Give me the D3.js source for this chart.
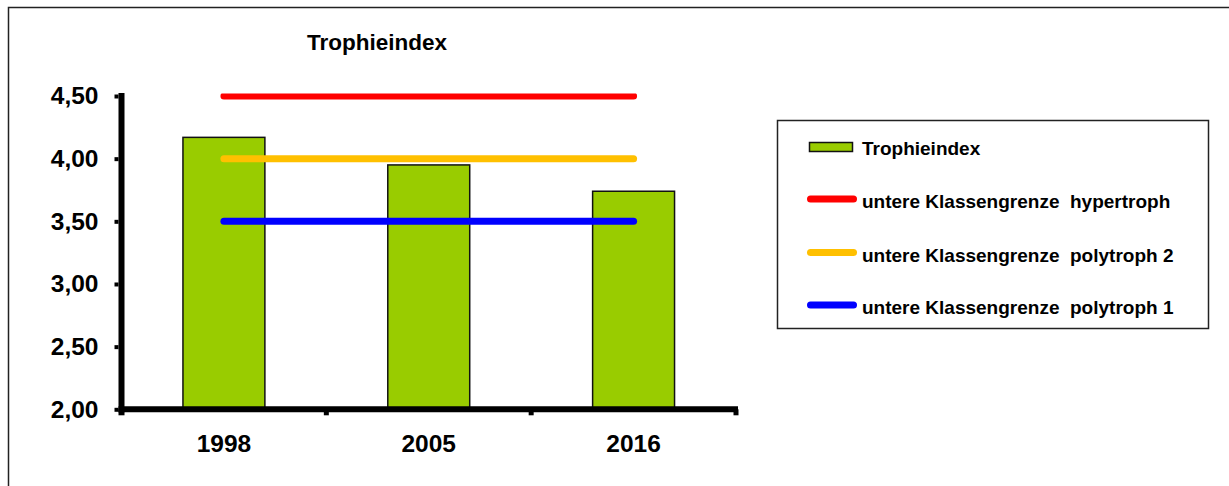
<!DOCTYPE html>
<html><head><meta charset="utf-8">
<script src="https://cdn.jsdelivr.net/npm/d3@7"></script>
<style>
html,body{margin:0;padding:0;background:#fff;}
svg{display:block;font-family:"Liberation Sans",Arial,sans-serif;font-weight:bold;}
</style></head>
<body>
<script>
const categories = ["1998","2005","2016"];
const trophieindex = [4.17, 3.95, 3.74];
const thresholds = [4.5, 4.0, 3.5];
const thresholdNames = ["untere Klassengrenze  hypertroph","untere Klassengrenze  polytroph 2","untere Klassengrenze  polytroph 1"];
const thresholdColors = ["#ff0000","#ffc000","#0000ff"];
const yTicks = [2.0, 2.5, 3.0, 3.5, 4.0, 4.5];
const title = "Trophieindex";

const W = 1229, H = 486;
const svg = d3.select("body").append("svg").attr("width", W).attr("height", H);

// outer frame
svg.append("rect").attr("x", 8.5).attr("y", 7.5).attr("width", 1300).attr("height", 600)
  .attr("fill", "none").attr("stroke", "#222").attr("stroke-width", 1.5);

const x0 = 121.5, x1 = 736, yBot = 409.3, yTop = 96;
const x = d3.scaleBand().domain(categories).range([x0, x1]).paddingInner(0.6).paddingOuter(0.3);
const y = d3.scaleLinear().domain([2, 4.5]).range([yBot, yTop]);

// title
svg.append("text").attr("x", 377).attr("y", 50).attr("text-anchor", "middle")
  .attr("font-size", 22.5).text(title);

// bars
svg.append("g").selectAll("rect").data(trophieindex).join("rect")
  .attr("x", (d, i) => x(categories[i]))
  .attr("width", x.bandwidth())
  .attr("y", d => y(d))
  .attr("height", d => y(2) - y(d))
  .attr("fill", "#99cc00").attr("stroke", "#111").attr("stroke-width", 1.5);

// threshold lines
svg.append("clipPath").attr("id", "plotclip").append("rect")
  .attr("x", 0).attr("y", yTop - 2.5).attr("width", W).attr("height", H);
const cx = c => x(c) + x.bandwidth() / 2;
svg.append("g").attr("clip-path", "url(#plotclip)").selectAll("line").data(thresholds).join("line")
  .attr("x1", cx(categories[0])).attr("x2", cx(categories[categories.length - 1]))
  .attr("y1", d => y(d)).attr("y2", d => y(d))
  .attr("stroke", (d, i) => thresholdColors[i]).attr("stroke-width", 7).attr("stroke-linecap", "round");

// y axis
const yAxis = d3.axisLeft(y).tickValues(yTicks).tickSize(4).tickPadding(16)
  .tickFormat(d => d3.format(".2f")(d).replace(".", ","));
const gy = svg.append("g").attr("transform", `translate(${x0 - 3},0)`).call(yAxis);
gy.select(".domain").remove();
gy.selectAll(".tick line").attr("stroke", "#000").attr("stroke-width", 4);
gy.selectAll(".tick text").attr("font-size", 24.5).attr("font-weight", "bold").attr("fill", "#000")
  .attr("font-family", "Liberation Sans, Arial, sans-serif");
svg.append("line").attr("x1", x0).attr("x2", x0).attr("y1", yTop - 3).attr("y2", yBot + 3)
  .attr("stroke", "#000").attr("stroke-width", 6);

// x axis
svg.append("line").attr("x1", x0 - 3).attr("x2", x1 + 2).attr("y1", yBot).attr("y2", yBot)
  .attr("stroke", "#000").attr("stroke-width", 6);
const step = x.step();
const boundaries = categories.map((c, i) => x0 + step * (i + 1));
svg.append("g").selectAll("line").data(boundaries).join("line")
  .attr("x1", d => d).attr("x2", d => d).attr("y1", yBot).attr("y2", yBot + 6)
  .attr("stroke", "#000").attr("stroke-width", 5);
svg.append("line").attr("x1", x0).attr("x2", x0).attr("y1", yBot).attr("y2", yBot + 6)
  .attr("stroke", "#000").attr("stroke-width", 6);
svg.append("g").selectAll("text").data(categories).join("text")
  .attr("x", d => cx(d)).attr("y", 452).attr("text-anchor", "middle")
  .attr("font-size", 24.5).text(d => d);

// legend
const lg = svg.append("g");
lg.append("rect").attr("x", 777.5).attr("y", 120.5).attr("width", 431).attr("height", 208)
  .attr("fill", "#fff").attr("stroke", "#222").attr("stroke-width", 1.5);
lg.append("rect").attr("x", 809.5).attr("y", 142.5).attr("width", 43).attr("height", 9)
  .attr("fill", "#99cc00").attr("stroke", "#111").attr("stroke-width", 1.5);
lg.append("text").attr("x", 862).attr("y", 155).attr("font-size", 19).text(title);
const legY = [199, 252.5, 305];
thresholdNames.forEach((n, i) => {
  lg.append("line").attr("x1", 810.5).attr("x2", 853.5).attr("y1", legY[i]).attr("y2", legY[i])
    .attr("stroke", thresholdColors[i]).attr("stroke-width", 7).attr("stroke-linecap", "round");
  lg.append("text").attr("x", 862).attr("y", legY[i] + 9).attr("font-size", 19)
    .attr("xml:space", "preserve").style("white-space", "pre").text(n);
});
</script>
</body></html>
